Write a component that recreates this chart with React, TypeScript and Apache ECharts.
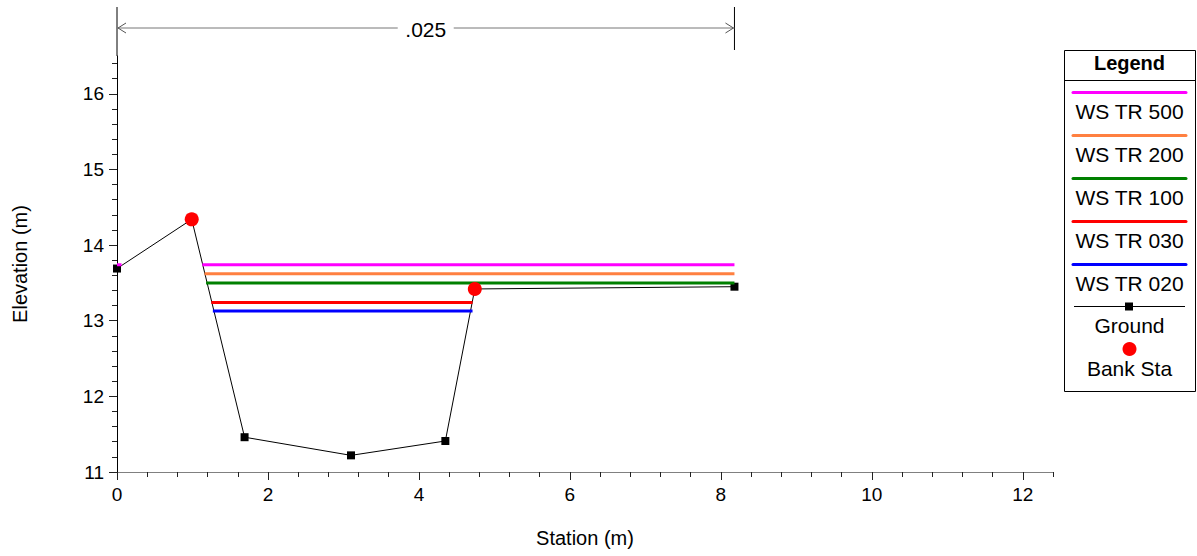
import React, { useEffect, useRef } from 'react';
import * as echarts from 'echarts';

// ---- data ----
const groundStation = [0, 0.99, 1.69, 3.1, 4.35, 4.74, 8.18];
const groundElevation = [13.69, 14.34, 11.46, 11.22, 11.41, 13.42, 13.45];
const bankStation = [0.99, 4.74];
const bankElevation = [14.34, 13.42];

const wsNames = ['WS TR 500', 'WS TR 200', 'WS TR 100', 'WS TR 030', 'WS TR 020'];
const wsColors = ['#ff00ff', '#ff8040', '#008000', '#ff0000', '#0000ff'];
const wsElevation = [13.74, 13.62, 13.5, 13.24, 13.13];
// wetted segments (start station, end station) per profile
const wsSegments = [
  [[0, 0.06], [1.13, 8.18]],
  [[1.16, 8.18]],
  [[1.18, 8.18]],
  [[1.25, 4.71]],
  [[1.27, 4.71]],
];

const xMajorTicks = [0, 2, 4, 6, 8, 10, 12];
const yMajorTicks = [11, 12, 13, 14, 15, 16];
const nRegions = [{ from: 0, to: 8.18, label: '.025' }];

const X_MIN = 0, X_MAX = 12.4, Y_MIN = 11, Y_MAX = 16.5;

export default function App() {
  const ref = useRef<HTMLDivElement>(null);
  useEffect(() => {
    const chart = echarts.init(ref.current!, null, { renderer: 'svg' });
    const font = "'Liberation Sans', Arial, sans-serif";

    const xMinor: number[] = [];
    for (let v = X_MIN; v <= X_MAX + 1e-9; v += 0.4) xMinor.push(Math.round(v * 10) / 10);
    const yMinor: number[] = [];
    for (let v = Y_MIN; v <= Y_MAX + 1e-9; v += 0.2) yMinor.push(Math.round(v * 10) / 10);

    const series: any[] = [];
    series.push({
      type: 'line', name: 'Ground',
      data: groundStation.map((s, i) => [s, groundElevation[i]]),
      symbol: 'rect', symbolSize: 8, showSymbol: true,
      lineStyle: { color: '#000', width: 1 }, itemStyle: { color: '#000' }, z: 2,
    });
    wsNames.forEach((n, i) => {
      wsSegments[i].forEach((seg) => {
        series.push({
          type: 'line', name: n,
          data: seg.map((s) => [s, wsElevation[i]]),
          symbol: 'none', lineStyle: { color: wsColors[i], width: 3 }, z: 3,
        });
      });
    });
    series.push({
      type: 'scatter', name: 'Bank Sta',
      data: bankStation.map((s, i) => [s, bankElevation[i]]),
      symbol: 'circle', symbolSize: 14, itemStyle: { color: '#ff0000', opacity: 1 }, z: 4,
    });

    const grid = { left: 117, right: 144, top: 56, bottom: 84 };

    chart.setOption({
      animation: false,
      grid,
      xAxis: [
        {
          type: 'value', min: X_MIN, max: X_MAX, position: 'bottom',
          name: 'Station (m)', nameLocation: 'middle', nameGap: 56,
          nameTextStyle: { fontFamily: font, fontSize: 20, color: '#000' },
          axisLine: { show: true, lineStyle: { color: '#808080', width: 1 } },
          axisTick: { show: true, customValues: xMajorTicks, length: 8, lineStyle: { color: '#222' } },
          axisLabel: { show: true, customValues: xMajorTicks, margin: 13, fontFamily: font, fontSize: 19, color: '#000' },
          splitLine: { show: false },
        },
        {
          type: 'value', min: X_MIN, max: X_MAX, position: 'bottom',
          axisLine: { show: false },
          axisTick: { show: true, customValues: xMinor, length: 5, lineStyle: { color: '#222' } },
          axisLabel: { show: false },
          splitLine: { show: false },
        },
      ],
      yAxis: [
        {
          type: 'value', min: Y_MIN, max: Y_MAX, position: 'left',
          name: 'Elevation (m)', nameLocation: 'middle', nameGap: 87,
          nameTextStyle: { fontFamily: font, fontSize: 20, color: '#000' },
          axisLine: { show: true, lineStyle: { color: '#000', width: 1 } },
          axisTick: { show: true, customValues: yMajorTicks, length: 8, lineStyle: { color: '#222' } },
          axisLabel: { show: true, customValues: yMajorTicks, margin: 13, fontFamily: font, fontSize: 19, color: '#000' },
          splitLine: { show: false },
        },
        {
          type: 'value', min: Y_MIN, max: Y_MAX, position: 'left',
          axisLine: { show: false },
          axisTick: { show: true, customValues: yMinor, length: 5, lineStyle: { color: '#222' } },
          axisLabel: { show: false },
          splitLine: { show: false },
        },
      ],
      series,
    });

    // ---- annotations (n-value region) ----
    const graphics: any[] = [];
    const gridTop = grid.top;
    nRegions.forEach((r) => {
      const x0 = (chart.convertToPixel({ gridIndex: 0 }, [r.from, Y_MIN]) as number[])[0];
      const x1 = (chart.convertToPixel({ gridIndex: 0 }, [r.to, Y_MIN]) as number[])[0];
      const mid = (x0 + x1) / 2;
      const yl = 28;
      graphics.push({ type: 'line', shape: { x1: x0, y1: 7, x2: x0, y2: gridTop }, style: { stroke: '#000', lineWidth: 1 } });
      graphics.push({ type: 'line', shape: { x1: x1, y1: 7, x2: x1, y2: 50 }, style: { stroke: '#000', lineWidth: 1 } });
      graphics.push({ type: 'line', shape: { x1: x0, y1: yl, x2: mid - 28, y2: yl }, style: { stroke: '#777', lineWidth: 1 } });
      graphics.push({ type: 'line', shape: { x1: mid + 28, y1: yl, x2: x1, y2: yl }, style: { stroke: '#777', lineWidth: 1 } });
      graphics.push({ type: 'polyline', shape: { points: [[x0 + 9, yl - 5], [x0 + 1, yl], [x0 + 9, yl + 5]] }, style: { stroke: '#555', lineWidth: 1, fill: null } });
      graphics.push({ type: 'polyline', shape: { points: [[x1 - 9, yl - 5], [x1 - 1, yl], [x1 - 9, yl + 5]] }, style: { stroke: '#555', lineWidth: 1, fill: null } });
      graphics.push({ type: 'text', x: mid, y: yl + 1, style: { text: r.label, fontFamily: font, fontSize: 21, fill: '#000', align: 'center', verticalAlign: 'middle' } });
    });

    // ---- legend box ----
    const lx = 1064, lw = 131, ly = 50, lh = 341, cx = lx + lw / 2;
    graphics.push({ type: 'rect', shape: { x: lx + 0.5, y: ly + 0.5, width: lw, height: lh }, style: { fill: '#fff', stroke: '#000', lineWidth: 1 } });
    graphics.push({ type: 'text', x: cx, y: 63, style: { text: 'Legend', fontFamily: font, fontSize: 20, fontWeight: 'bold', fill: '#000', align: 'center', verticalAlign: 'middle' } });
    graphics.push({ type: 'line', shape: { x1: lx, y1: 80.5, x2: lx + lw, y2: 80.5 }, style: { stroke: '#000', lineWidth: 1 } });
    wsNames.forEach((n, i) => {
      const y = 92.5 + i * 43;
      graphics.push({ type: 'line', shape: { x1: 1073, y1: y, x2: 1186, y2: y }, style: { stroke: wsColors[i], lineWidth: 3, lineCap: 'round' } });
      graphics.push({ type: 'text', x: cx, y: y + 19, style: { text: n, fontFamily: font, fontSize: 21, fill: '#000', align: 'center', verticalAlign: 'middle' } });
    });
    graphics.push({ type: 'line', shape: { x1: 1074, y1: 306.5, x2: 1185, y2: 306.5 }, style: { stroke: '#000', lineWidth: 1 } });
    graphics.push({ type: 'rect', shape: { x: 1125, y: 302.5, width: 8, height: 8 }, style: { fill: '#000' } });
    graphics.push({ type: 'text', x: cx, y: 325, style: { text: 'Ground', fontFamily: font, fontSize: 21, fill: '#000', align: 'center', verticalAlign: 'middle' } });
    graphics.push({ type: 'circle', shape: { cx: 1129.5, cy: 349, r: 7 }, style: { fill: '#ff0000' } });
    graphics.push({ type: 'text', x: cx, y: 368, style: { text: 'Bank Sta', fontFamily: font, fontSize: 21, fill: '#000', align: 'center', verticalAlign: 'middle' } });

    chart.setOption({ graphic: graphics });

    return () => chart.dispose();
  }, []);

  return <div ref={ref} style={{ position: 'fixed', left: 0, top: 0, width: 1197, height: 556, background: '#fff' }} />;
}
